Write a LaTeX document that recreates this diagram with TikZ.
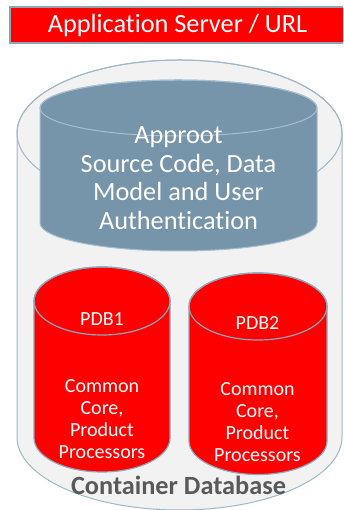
\documentclass[tikz,border=0pt]{standalone}
\usepackage{fontspec}
\setmainfont{Carlito}[Ligatures=NoCommon]
\definecolor{outerfill}{HTML}{F2F2F2}
\definecolor{outerline}{HTML}{9DB9CC}
\definecolor{bluefill}{HTML}{7694AA}
\definecolor{blueline}{HTML}{A6BFD0}
\definecolor{redfill}{HTML}{FF0000}
\definecolor{redline}{HTML}{8DA7BB}
\definecolor{titleline}{HTML}{8FA6B8}
\definecolor{darktext}{HTML}{595959}
% #1 cx, #2 top centre y, #3 bottom centre y, #4 rx, #5 ry, #6 style
\newcommand\mycyl[6]{%
  \path[#6] ({#1-#4},#2) -- ({#1-#4},#3)
    arc[start angle=180, end angle=360, x radius=#4, y radius=#5]
    -- ({#1+#4},#2)
    arc[start angle=0, end angle=180, x radius=#4, y radius=#5] -- cycle;
  \path[#6, fill=none] (#1,#2) ellipse[x radius=#4, y radius=#5];
}
\begin{document}
\begin{tikzpicture}[x=1pt,y=1pt,
  outercyl/.style={fill=outerfill, draw=outerline, line width=1pt},
  bluecyl/.style={fill=bluefill, draw=blueline, line width=1pt},
  redcyl/.style={fill=redfill, draw=redline, line width=1.2pt},
  titlebox/.style={fill=redfill, draw=titleline, line width=1.2pt},
  titletext/.style={text=white, font=\fontsize{26.3}{30}\selectfont, inner sep=0pt},
  bluetext/.style={text=white, align=center, inner sep=0pt, font=\fontsize{26.3}{28.5}\selectfont},
  redtext/.style={text=white, align=center, inner sep=0pt, font=\fontsize{20}{22}\selectfont},
  cdbtext/.style={text=darktext, inner sep=0pt, font=\fontsize{26.3}{30}\selectfont\bfseries}]
\useasboundingbox (0,0) rectangle (343,510);
\begin{scope}
\clip (0,0) rectangle (343,510);
% title bar
\path[titlebox] (10,467) rectangle (352,503);
\node[titletext, anchor=base] (title) at (177.5,477) {Application Server / URL};
% container database
\mycyl{179.5}{377}{73}{162.5}{73}{outercyl}
% approot cylinder
\mycyl{178.5}{402}{287}{138.5}{28}{bluecyl}
\node[bluetext] (approot) at (178.5,332) {Approot\\Source Code, Data\\Model and User\\Authentication};
% PDB cylinders
\mycyl{102}{209}{72}{68}{34}{redcyl}
\mycyl{258}{203.5}{69}{69}{33.5}{redcyl}
\node[redtext, anchor=base] (pdb1) at (102,184) {PDB1};
\node[redtext, anchor=base] (pdb2) at (257.5,180) {PDB2};
\node[redtext] (pdb1txt) at (102,91) {Common\\Core,\\Product\\Processors};
\node[redtext] (pdb2txt) at (257.5,87.5) {Common\\Core,\\Product\\Processors};
\node[cdbtext, anchor=base] (cdb) at (178.5,16) {Container Database};
\end{scope}
\end{tikzpicture}
\end{document}
